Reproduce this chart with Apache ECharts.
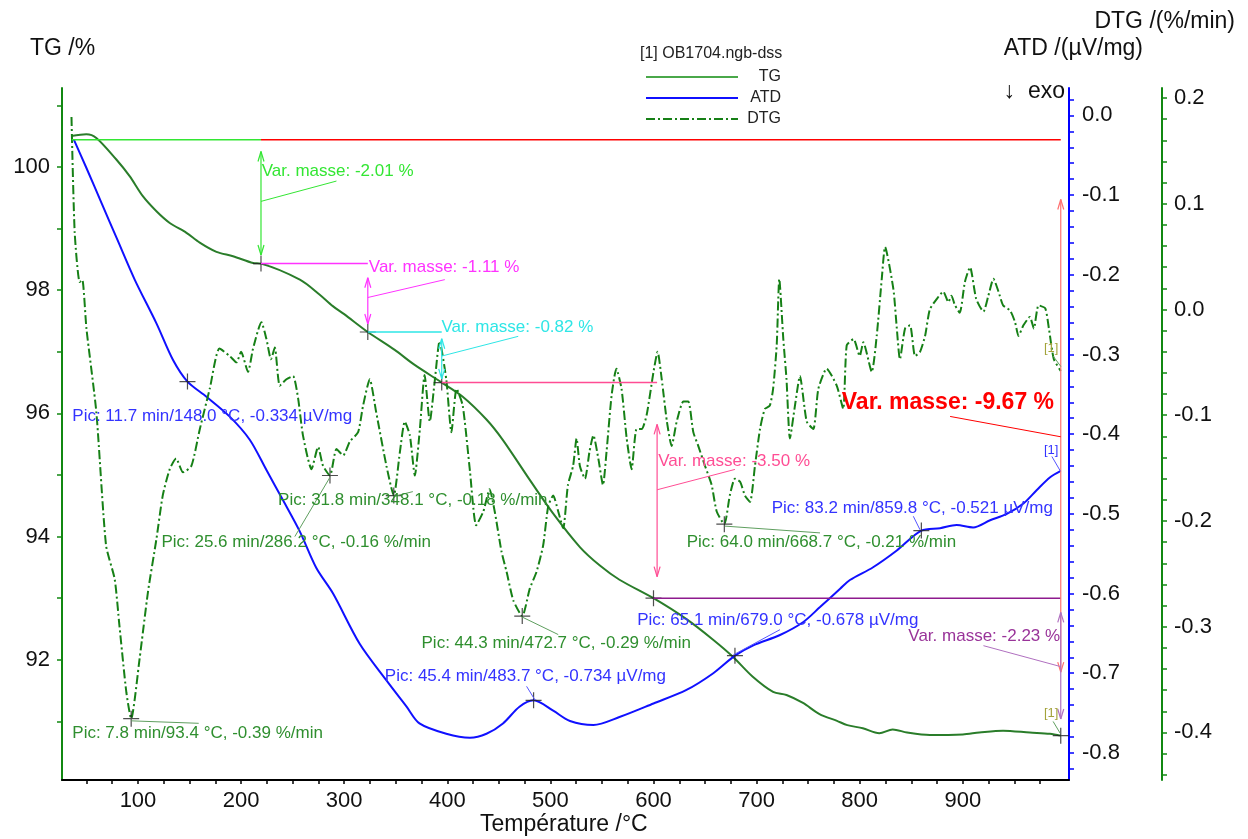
<!DOCTYPE html>
<html><head><meta charset="utf-8">
<script src="https://cdn.jsdelivr.net/npm/echarts@6/dist/echarts.min.js"></script>
<style>html,body{margin:0;padding:0;background:#fff}#c{width:1248px;height:839px}</style>
</head><body><div id="c"></div>
<script>
// ---------- data ----------
const tgTemp = [35.3,49.9,59.6,79,91.9,104.9,117.9,130.8,147,159.9,176.1,192.2,211.6,219.3,257,276,289,300,322.9,349,368,394.6,415,438,453.8,480,502.4,528.6,548,567,600,632,657.5,677,696,716,729,745,761,778,788,803,819,832,846,868,900,916,939,965,984.5,995];
const tgVal  = [100.50,100.53,100.47,100.12,99.85,99.52,99.28,99.09,98.93,98.77,98.62,98.55,98.44,98.43,98.17,97.93,97.74,97.61,97.32,97.03,96.79,96.50,96.27,95.90,95.57,94.92,94.38,93.83,93.53,93.30,93.00,92.66,92.33,92.05,91.73,91.48,91.43,91.30,91.12,91.01,90.94,90.89,90.81,90.87,90.82,90.78,90.79,90.82,90.85,90.82,90.80,90.77];

const atdTemp = [37.7,50,65,80,96.8,117.9,134,148.0,166.4,189,208.4,224.6,240.7,256.9,273,289.2,315,341,360.5,373,399,422,438,454,470,483.7,502.7,519,541.7,567,600,632,658,679,696.8,722.7,745,761.5,781,790.5,813,836,859.8,878,894,910,926.5,942.7,958.8,971.8,984.7,995];
const atdVal  = [-0.030,-0.066,-0.111,-0.156,-0.206,-0.261,-0.307,-0.334,-0.353,-0.378,-0.407,-0.445,-0.483,-0.522,-0.568,-0.600,-0.663,-0.709,-0.742,-0.763,-0.776,-0.781,-0.776,-0.763,-0.742,-0.734,-0.747,-0.760,-0.765,-0.755,-0.738,-0.721,-0.700,-0.678,-0.665,-0.652,-0.636,-0.617,-0.594,-0.583,-0.567,-0.546,-0.521,-0.518,-0.514,-0.517,-0.508,-0.500,-0.487,-0.470,-0.454,-0.446];

const dtgTemp = [35.5,38.6,43.4,46,50,59.6,69,77.4,82,88.7,93.4,101.6,109.7,117.9,124,130.8,137,143.7,151.8,160,169.6,179,189,195.5,200,206.7,211.6,219.7,224.6,229,232.7,237.5,244,250.4,255.3,260,268.3,274.7,279.5,286.2,292.5,299,305.4,313.5,318.3,324.8,331,341,348.1,354,358.8,363.7,368.5,373.4,378,383,388,392.5,399,404,409,415,422,428,435,441,446,452.6,457.5,464,472.7,480,486.6,493,497.9,502.7,507.6,512.4,517,522,525.4,528.6,533.5,538,541.7,546.5,551,554.5,559.4,564,569,574,578.8,583.6,588.5,593.3,600,604,608,613,617.6,622.5,629,633.7,638.6,643.4,650,656.4,661.3,668.7,674,679,684,688.7,693.6,698.4,703.3,708,712.8,716,719.5,722,725.9,729,732.3,737.2,742,748.6,755,759.9,768,777.7,784,787.4,794,800,803.5,811.7,816.5,821.4,824.6,832.7,836,839,844,848.8,853.7,858.5,863.4,868,874.8,881,886,889,892.4,897,902,907,913,920,924.8,929.7,934.6,939,945.9,950.7,954,958.8,965,968.9,973.5,980,983.5,988.3,995];
const dtgVal  = [0.182,0.073,0.026,0.028,-0.018,-0.097,-0.223,-0.255,-0.299,-0.362,-0.387,-0.330,-0.267,-0.217,-0.176,-0.151,-0.141,-0.154,-0.148,-0.113,-0.075,-0.037,-0.044,-0.050,-0.040,-0.059,-0.037,-0.012,-0.028,-0.047,-0.036,-0.072,-0.066,-0.063,-0.084,-0.119,-0.151,-0.130,-0.148,-0.157,-0.132,-0.138,-0.125,-0.116,-0.091,-0.066,-0.097,-0.148,-0.176,-0.135,-0.106,-0.119,-0.157,-0.113,-0.062,-0.106,-0.066,-0.030,-0.066,-0.116,-0.075,-0.091,-0.153,-0.204,-0.191,-0.170,-0.191,-0.229,-0.248,-0.275,-0.290,-0.264,-0.248,-0.223,-0.186,-0.176,-0.191,-0.207,-0.166,-0.148,-0.122,-0.148,-0.160,-0.134,-0.119,-0.141,-0.166,-0.134,-0.081,-0.056,-0.075,-0.122,-0.151,-0.113,-0.113,-0.100,-0.059,-0.040,-0.066,-0.106,-0.129,-0.106,-0.087,-0.087,-0.116,-0.129,-0.148,-0.166,-0.191,-0.203,-0.176,-0.160,-0.163,-0.176,-0.182,-0.148,-0.113,-0.094,-0.091,-0.075,-0.034,0.029,-0.028,-0.066,-0.122,-0.091,-0.063,-0.106,-0.113,-0.075,-0.056,-0.072,-0.094,-0.034,-0.028,-0.044,-0.031,-0.059,-0.025,0.029,0.059,0.019,-0.018,-0.047,-0.018,-0.015,-0.044,-0.040,-0.025,0.000,0.010,0.017,0.007,0.013,0.004,-0.003,0.026,0.040,0.010,-0.002,0.013,0.029,0.017,0.004,-0.001,-0.012,-0.025,-0.015,-0.007,-0.018,0.004,0.001,-0.018,-0.047,-0.058];

// marked points
const tgStepTemp = [219.3,322.9,394.6,600.0,995.0];
const tgStepVal  = [98.43,97.32,96.50,93.00,90.77];
const tgStart = 100.44;
const atdPeakTemp = [148.0,483.7,679.0,859.8];
const atdPeakVal  = [-0.334,-0.734,-0.678,-0.521];
const dtgPeakTemp = [93.4,286.2,348.1,472.7,668.7];
const dtgPeakVal  = [-0.387,-0.157,-0.176,-0.290,-0.203];

// ticks / labels
const xLabels = [100,200,300,400,500,600,700,800,900];
const xTicks = [50,75,100,125,150,175,200,225,250,275,300,325,350,375,400,425,450,475,500,525,550,575,600,625,650,675,700,725,750,775,800,825,850,875,900,925,950,975];
const tgLabels = [92,94,96,98,100];
const tgTicks = [91,92,93,94,95,96,97,98,99,100,101];
const atdLabels = [0,-0.1,-0.2,-0.3,-0.4,-0.5,-0.6,-0.7,-0.8];
const atdTicks = [0.02,0,-0.02,-0.04,-0.06,-0.08,-0.1,-0.12,-0.14,-0.16,-0.18,-0.2,-0.22,-0.24,-0.26,-0.28,-0.3,-0.32,-0.34,-0.36,-0.38,-0.4,-0.42,-0.44,-0.46,-0.48,-0.5,-0.52,-0.54,-0.56,-0.58,-0.6,-0.62,-0.64,-0.66,-0.68,-0.7,-0.72,-0.74,-0.76,-0.78,-0.8,-0.82];
const dtgLabels = [0.2,0.1,0,-0.1,-0.2,-0.3,-0.4];
const dtgTicks = [0.2,0.18,0.16,0.14,0.12,0.1,0.08,0.06,0.04,0.02,0,-0.02,-0.04,-0.06,-0.08,-0.1,-0.12,-0.14,-0.16,-0.18,-0.2,-0.22,-0.24,-0.26,-0.28,-0.3,-0.32,-0.34,-0.36,-0.38,-0.4,-0.42,-0.44];

// annotation texts
const massTexts = ['Var. masse: -2.01 %','Var. masse: -1.11 %','Var. masse: -0.82 %','Var. masse: -3.50 %','Var. masse: -9.67 %','Var. masse: -2.23 %'];
const peakTexts = ['Pic: 11.7 min/148.0 °C, -0.334 µV/mg','Pic: 25.6 min/286.2 °C, -0.16 %/min','Pic: 31.8 min/348.1 °C, -0.18 %/min','Pic: 44.3 min/472.7 °C, -0.29 %/min','Pic: 45.4 min/483.7 °C, -0.734 µV/mg','Pic: 65.1 min/679.0 °C, -0.678 µV/mg','Pic: 64.0 min/668.7 °C, -0.21 %/min','Pic: 83.2 min/859.8 °C, -0.521 µV/mg','Pic: 7.8 min/93.4 °C, -0.39 %/min'];

// ---------- chart ----------
const FONT = '"Liberation Sans", Arial, sans-serif';
const zip = (a,b)=>a.map((v,i)=>[v,b[i]]);
const chart = echarts.init(document.getElementById('c'));
const plusPath = 'path://M-0.6,-8H0.6V8H-0.6Z M-8,-0.6H8V0.6H-8Z';
const noSym = {color:'rgba(0,0,0,0)',borderColor:'rgba(0,0,0,0)',borderWidth:0};

const option = {
  animation:false,
  backgroundColor:'#fff',
  grid:{left:62,right:179,top:88,bottom:59},
  legend:{orient:'vertical',left:640,top:64,itemWidth:92,itemHeight:14,itemGap:5,
    formatter:'{a|{name}}',
    textStyle:{fontSize:16,color:'#222',fontFamily:FONT,rich:{a:{width:38,align:'right',fontSize:16,fontFamily:FONT,color:'#222'}}},
    itemStyle:noSym,
    data:[{name:'TG',lineStyle:{color:'#4aa84a'},itemStyle:noSym},{name:'ATD',itemStyle:noSym},{name:'DTG',itemStyle:noSym}]},
  xAxis:{type:'value',min:26.3,max:1003,
    axisLine:{onZero:false,lineStyle:{color:'#000',width:2}},
    axisTick:{customValues:xTicks,length:4,lineStyle:{color:'#000',width:1.5}},
    axisLabel:{customValues:xLabels,fontSize:22,color:'#111',fontFamily:FONT,margin:10},
    splitLine:{show:false}},
  yAxis:[
    {type:'value',position:'left',min:90.05,max:101.28,
      axisLine:{show:true,onZero:false,lineStyle:{color:'#118811',width:2}},
      axisTick:{show:true,customValues:tgTicks,length:5,lineStyle:{color:'#118811',width:1.5}},
      axisLabel:{customValues:tgLabels,fontSize:22,color:'#111',fontFamily:FONT,margin:12},
      splitLine:{show:false}},
    {type:'value',position:'right',min:-0.834,max:0.0344,
      axisLine:{show:true,onZero:false,lineStyle:{color:'#0000ff',width:2}},
      axisTick:{show:true,customValues:atdTicks,length:5,lineStyle:{color:'#0000ff',width:1.5}},
      axisLabel:{customValues:atdLabels,fontSize:22,color:'#111',fontFamily:FONT,margin:13,formatter:v=>v.toFixed(1)},
      splitLine:{show:false}},
    {type:'value',position:'right',offset:93,min:-0.445,max:0.2095,
      axisLine:{show:true,onZero:false,lineStyle:{color:'#118811',width:2}},
      axisTick:{show:true,customValues:dtgTicks,length:5,lineStyle:{color:'#118811',width:1.5}},
      axisLabel:{customValues:dtgLabels,fontSize:22,color:'#111',fontFamily:FONT,margin:12,formatter:v=>v.toFixed(1)},
      splitLine:{show:false}}
  ],
  series:[
    {name:'TG',type:'line',yAxisIndex:0,data:zip(tgTemp,tgVal),symbol:'none',smooth:0.3,
      lineStyle:{color:'#2a7d2a',width:2},itemStyle:{color:'#2a7d2a'},z:3},
    {name:'ATD',type:'line',yAxisIndex:1,data:zip(atdTemp,atdVal),symbol:'none',smooth:0.3,
      lineStyle:{color:'#1010ff',width:2},itemStyle:{color:'#1010ff'},z:3},
    {name:'DTG',type:'line',yAxisIndex:2,data:zip(dtgTemp,dtgVal),symbol:'none',smooth:0.2,
      lineStyle:{color:'#168016',width:2,type:[9,3,2,3]},itemStyle:{color:'#168016'},z:3},
    {type:'scatter',yAxisIndex:0,data:zip(tgStepTemp,tgStepVal),symbol:plusPath,symbolSize:16,
      itemStyle:{color:'#222'},z:6,silent:true},
    {type:'scatter',yAxisIndex:1,data:zip(atdPeakTemp,atdPeakVal),symbol:plusPath,symbolSize:16,
      itemStyle:{color:'#222'},z:6,silent:true},
    {type:'scatter',yAxisIndex:2,data:zip(dtgPeakTemp,dtgPeakVal),symbol:plusPath,symbolSize:16,
      itemStyle:{color:'#222'},z:6,silent:true}
  ]
};
chart.setOption(option);

// ---------- annotations (data coordinates on T / TG scale) ----------
const C = {green:'#33e633',mag:'#ff33ff',cyan:'#2ee6e6',pink:'#ff4d94',red:'#ff0000',redl:'#ff7070',
  purple:'#8e1a8e',purpl:'#b070c0',purt:'#993399',blue:'#3333ff',dgreen:'#2f8f2f',olive:'#a3a33a'};
function build(){
  const g=[];
  const P=(t,v)=>chart.convertToPixel({xAxisIndex:0,yAxisIndex:0},[t,v]);
  const line=(a,b,c,w)=>g.push({type:'line',silent:true,z:100,shape:{x1:a[0],y1:a[1],x2:b[0],y2:b[1]},style:{stroke:c,lineWidth:w||1}});
  const text=(p,s,c,font,align)=>g.push({type:'text',silent:true,z:101,x:p[0],y:p[1],
    style:{text:s,fill:c,font:font,textAlign:align||'left',textVerticalAlign:'middle',align:align||'left',verticalAlign:'middle'}});
  const arrow=(t,v1,v2,c)=>{const a=P(t,v1),b=P(t,v2);line(a,b,c,1.2);
    line(a,[a[0]-3,a[1]+10],c,1.2);line(a,[a[0]+3,a[1]+10],c,1.2);
    line(b,[b[0]-3,b[1]-10],c,1.2);line(b,[b[0]+3,b[1]-10],c,1.2);};
  const F = '17px '+FONT;
  // horizontal level lines
  line(P(35.7,tgStart),P(tgStepTemp[0],tgStart),C.green,1.5);
  line(P(tgStepTemp[0],tgStart),P(995,tgStart),C.red,1.5);
  line(P(tgStepTemp[0],tgStepVal[0]),P(tgStepTemp[1],tgStepVal[0]),C.mag,1.5);
  line(P(tgStepTemp[1],tgStepVal[1]),P(tgStepTemp[2],tgStepVal[1]),C.cyan,1.5);
  line(P(tgStepTemp[2],tgStepVal[2]),P(603.5,tgStepVal[2]),C.pink,1.5);
  line(P(tgStepTemp[3],tgStepVal[3]),P(995,tgStepVal[3]),C.purple,1.5);
  // arrows
  arrow(219.3,100.25,98.57,C.green);
  arrow(322.9,98.20,97.45,C.mag);
  arrow(394.6,97.21,96.56,C.cyan);
  arrow(603.5,95.82,93.35,C.pink);
  arrow(995,99.47,91.80,C.redl);
  arrow(995,92.77,91.04,C.purpl);
  // leaders
  line(P(219.3,99.44),P(292.5,99.77),C.green);
  line(P(322.9,97.88),P(397.6,98.17),C.mag);
  line(P(394.6,96.93),P(468.8,97.25),C.cyan);
  line(P(603.5,94.76),P(679,95.09),C.pink);
  line(P(887.7,95.95),P(995,95.62),C.red);
  line(P(920,92.23),P(995,91.89),C.purpl);
  // mass labels
  text(P(220,99.93),massTexts[0],C.green,F);
  text(P(323.9,98.37),massTexts[1],C.mag,F);
  text(P(394.4,97.40),massTexts[2],C.cyan,F);
  text(P(604.6,95.22),massTexts[3],C.pink,F);
  text(P(782.6,96.17),massTexts[4],C.red,'bold 23px '+FONT);
  text(P(994.4,92.38),massTexts[5],C.purt,F,'right');
  // peak leaders
  const lg='#5f9f5f', lb='#5555ff';
  line(P(252.1,94.00),P(286.1,94.96),lg);
  line(P(347.5,94.65),P(366.6,94.73),lg);
  line(P(472.0,92.70),P(507.6,92.41),lg);
  line(P(485,91.35),P(476.9,91.57),lb);
  line(P(677.4,92.08),P(722.7,92.49),lb);
  line(P(669.3,94.17),P(761.5,94.06),lg);
  line(P(858.5,94.11),P(852,94.33),lb);
  line(P(93.6,91.01),P(158.9,90.97),lg);
  // peak labels
  text(P(36.3,95.96),peakTexts[0],C.blue,F);
  text(P(122.7,93.91),peakTexts[1],C.dgreen,F);
  text(P(235.9,94.59),peakTexts[2],C.dgreen,F);
  text(P(375,92.27),peakTexts[3],C.dgreen,F);
  text(P(339.4,91.73),peakTexts[4],C.blue,F);
  text(P(584.2,92.64),peakTexts[5],C.blue,F);
  text(P(632.2,93.91),peakTexts[6],C.dgreen,F);
  text(P(714.7,94.46),peakTexts[7],C.blue,F);
  text(P(36.3,90.81),peakTexts[8],C.dgreen,F);
  // [1] end markers
  const f13='13px '+FONT;
  text(P(985.7,97.06),'[1]',C.olive,f13,'center'); line(P(987.6,96.93),P(995.1,96.76),lg);
  text(P(985.7,95.40),'[1]',C.blue,f13,'center'); line(P(986.4,95.30),P(994.4,95.07),lb);
  text(P(985.7,91.13),'[1]',C.olive,f13,'center'); line(P(987.6,91.00),P(994.4,90.81),lg);
  // axis titles, legend title
  const T22='23px '+FONT;
  g.push({type:'text',silent:true,left:30,top:37,style:{text:'TG /%',fill:'#111',font:T22}});
  g.push({type:'text',silent:true,right:13,top:10,style:{text:'DTG /(%/min)',fill:'#111',font:T22}});
  g.push({type:'text',silent:true,right:105,top:37,style:{text:'ATD /(µV/mg)',fill:'#111',font:T22}});
  g.push({type:'text',silent:true,right:183,top:80,style:{text:'↓  exo',fill:'#111',font:T22}});
  g.push({type:'text',silent:true,left:480,top:813,style:{text:'Température /°C',fill:'#111',font:T22}});
  g.push({type:'text',silent:true,left:640,top:46,style:{text:'[1] OB1704.ngb-dss',fill:'#222',font:'16px '+FONT}});
  chart.setOption({graphic:g});
}
build();
</script></body></html>
